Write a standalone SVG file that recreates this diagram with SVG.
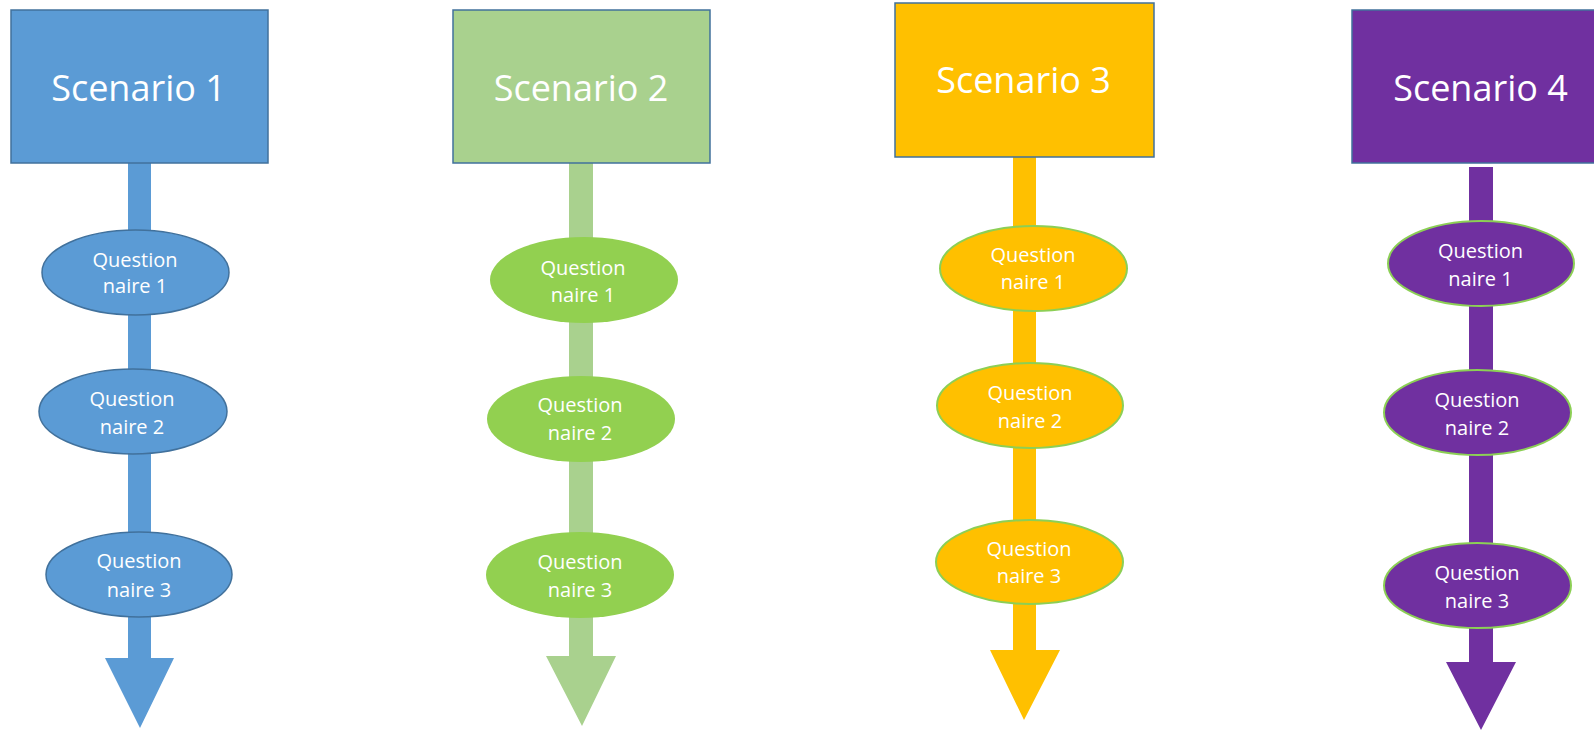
<svg xmlns="http://www.w3.org/2000/svg" width="1594" height="730" viewBox="0 0 1594 730">
<style>
text{font-family:"Open Sans","Liberation Sans",sans-serif;fill:#fff;text-anchor:middle}
.t{font-size:36px}
.q{font-size:20px}
.box{stroke:#41719C;stroke-width:1.5}
.s1 ellipse{fill:#5B9BD5;stroke:#41719C;stroke-width:1.5}
.s2 ellipse{fill:#92D050}
.s3 ellipse{fill:#FFC000;stroke:#8CCF55;stroke-width:2}
.s4 ellipse{fill:#7030A0;stroke:#8CCF55;stroke-width:2}
</style>
<rect width="1594" height="730" fill="#fff"/>
<g id="connectors">
<polygon fill="#5B9BD5" points="128,163 151,163 151,658 174,658 140,728 105,658 128,658"/>
<polygon fill="#A9D18E" points="569,163 593,163 593,656 616,656 582,726 546,656 569,656"/>
<polygon fill="#FFC000" points="1013,157 1036,157 1036,650 1060,650 1024,720 990,650 1013,650"/>
<polygon fill="#7030A0" points="1469,167 1493,167 1493,662 1516,662 1481,730 1446,662 1469,662"/>
</g>
<g id="scenario1" class="s1">
<rect class="box" x="11" y="10" width="257" height="153" fill="#5B9BD5"/>
<text class="t" x="138.5" y="101">Scenario 1</text>
</g>
<g id="s1q1" class="s1"><ellipse cx="135.5" cy="272.5" rx="93.5" ry="42.5"/><text class="q" x="135" y="267">Question</text><text class="q" x="135" y="293">naire 1</text></g>
<g id="s1q2" class="s1"><ellipse cx="133" cy="411.5" rx="94" ry="42.5"/><text class="q" x="132" y="406">Question</text><text class="q" x="132" y="434">naire 2</text></g>
<g id="s1q3" class="s1"><ellipse cx="139" cy="574.5" rx="93" ry="42.5"/><text class="q" x="139" y="568">Question</text><text class="q" x="139" y="597">naire 3</text></g>
<g id="scenario2">
<rect class="box" x="453" y="10" width="257" height="153" fill="#A9D18E"/>
<text class="t" x="581" y="101">Scenario 2</text>
</g>
<g id="s2q1" class="s2"><ellipse cx="584" cy="280" rx="94" ry="43"/><text class="q" x="583" y="275">Question</text><text class="q" x="583" y="302">naire 1</text></g>
<g id="s2q2" class="s2"><ellipse cx="581" cy="419" rx="94" ry="43"/><text class="q" x="580" y="412">Question</text><text class="q" x="580" y="440">naire 2</text></g>
<g id="s2q3" class="s2"><ellipse cx="580" cy="575" rx="94" ry="43"/><text class="q" x="580" y="569">Question</text><text class="q" x="580" y="597">naire 3</text></g>
<g id="scenario3">
<rect class="box" x="895" y="3" width="259" height="154" fill="#FFC000"/>
<text class="t" x="1023.5" y="93">Scenario 3</text>
</g>
<g id="s3q1" class="s3"><ellipse cx="1033.5" cy="268.5" rx="93.5" ry="42.5"/><text class="q" x="1033" y="262">Question</text><text class="q" x="1033" y="289">naire 1</text></g>
<g id="s3q2" class="s3"><ellipse cx="1030" cy="405.5" rx="93" ry="42.5"/><text class="q" x="1030" y="400">Question</text><text class="q" x="1030" y="428">naire 2</text></g>
<g id="s3q3" class="s3"><ellipse cx="1029.5" cy="562" rx="93.5" ry="42"/><text class="q" x="1029" y="556">Question</text><text class="q" x="1029" y="583">naire 3</text></g>
<g id="scenario4">
<rect class="box" x="1352" y="10" width="260" height="153" fill="#7030A0"/>
<text class="t" x="1480.5" y="101">Scenario 4</text>
</g>
<g id="s4q1" class="s4"><ellipse cx="1481" cy="263.5" rx="93" ry="42.5"/><text class="q" x="1480.5" y="258">Question</text><text class="q" x="1480.5" y="286">naire 1</text></g>
<g id="s4q2" class="s4"><ellipse cx="1477.5" cy="412.5" rx="93.5" ry="42.5"/><text class="q" x="1477" y="407">Question</text><text class="q" x="1477" y="435">naire 2</text></g>
<g id="s4q3" class="s4"><ellipse cx="1477.5" cy="585.5" rx="93.5" ry="42.5"/><text class="q" x="1477" y="580">Question</text><text class="q" x="1477" y="608">naire 3</text></g>
</svg>
